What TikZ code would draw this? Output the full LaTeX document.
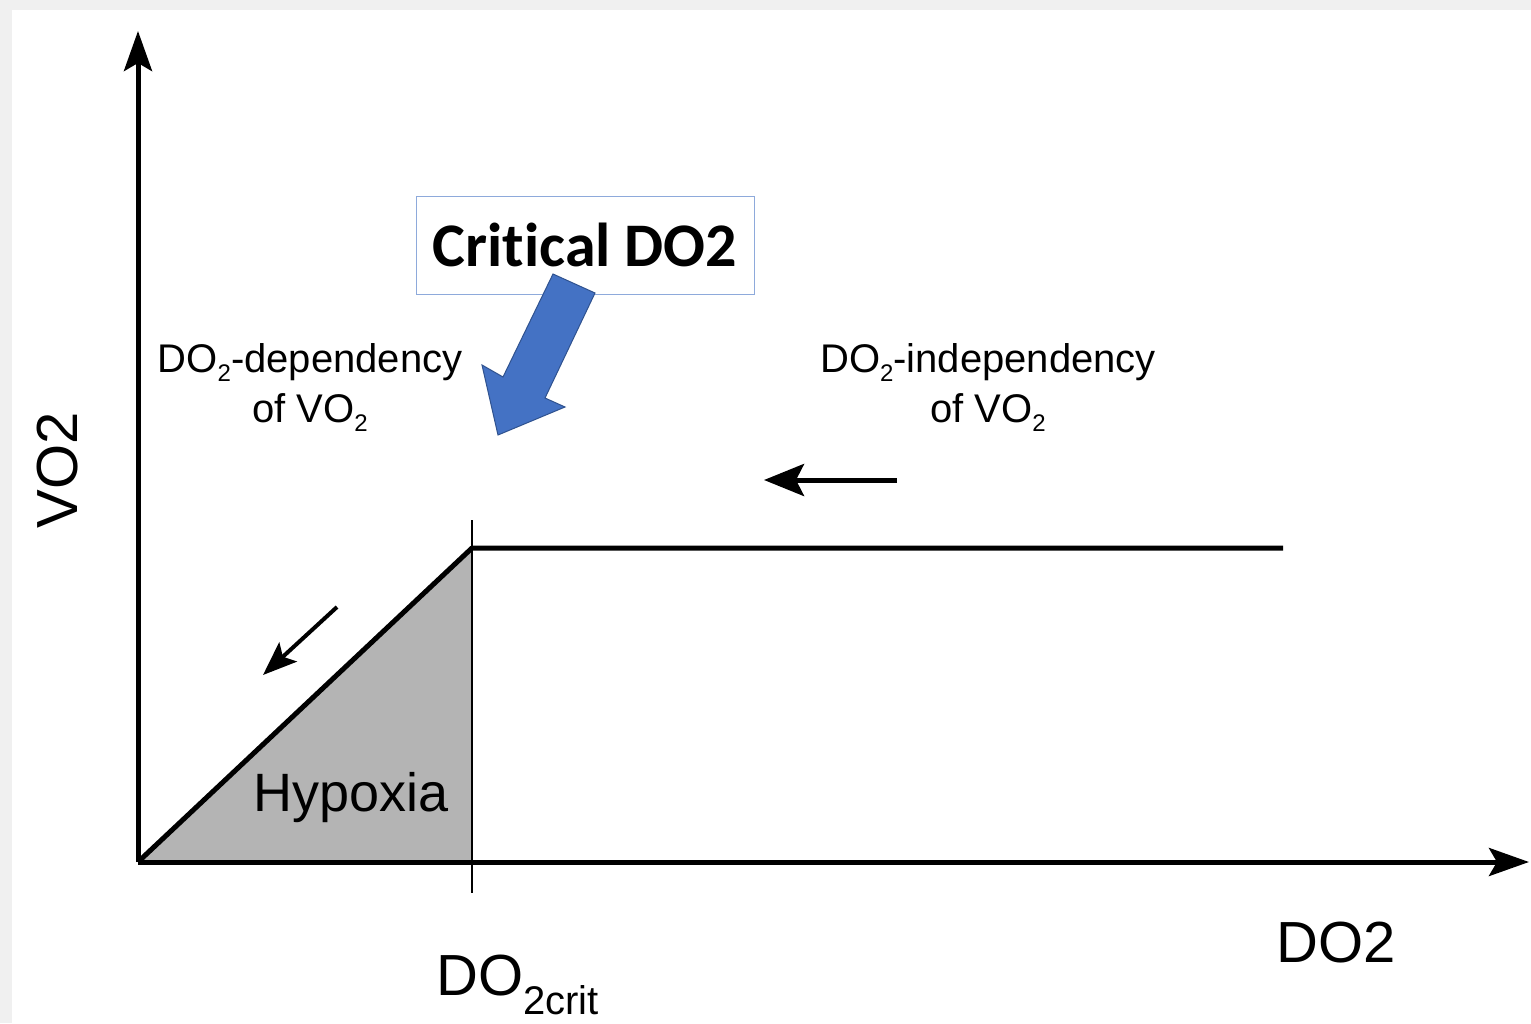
\documentclass[tikz,border=0pt]{standalone}
\usepackage{fontspec}
\setmainfont{Liberation Sans}
\newfontfamily\calfont[Ligatures=NoCommon]{Carlito}
\usetikzlibrary{arrows.meta}
\definecolor{bggray}{HTML}{F0F0F0}
\definecolor{hypgray}{HTML}{B4B4B4}
\definecolor{boxblue}{HTML}{8EAADB}
\definecolor{arrfill}{HTML}{4472C4}
\definecolor{arrline}{HTML}{2F528F}
\newcommand{\subtwo}{\raisebox{-9pt}{\fontsize{24}{24}\selectfont 2}}
\tikzset{
  axisline/.style={line width=5pt, -{Stealth[length=40pt,width=28pt,inset=8pt]}},
  curveline/.style={line width=5pt},
  smallarrow/.style={line width=5pt, -{Stealth[length=40pt,width=32pt,inset=8pt]}},
  lbl/.style={inner sep=0pt, align=center, font=\fontsize{40}{50}\selectfont},
  biglbl/.style={inner sep=0pt, font=\fontsize{58}{58}\selectfont},
}
\begin{document}
\begin{tikzpicture}[x=1pt,y=-1pt]
\useasboundingbox (0,0) rectangle (1531,1023);
\fill[bggray] (0,0) rectangle (1531,1023);
\fill[white] (12,10) rectangle (1531,1023);
% coordinates
\coordinate (O) at (138,862);
\coordinate (ytop) at (138,31);
\coordinate (xend) at (1529,862);
\coordinate (crit) at (472,548);
\coordinate (critbase) at (472,862);
\coordinate (plateauend) at (1283,548);
\coordinate (ticktop) at (472,520);
\coordinate (tickbot) at (472,893);
% hypoxia area
\fill[hypgray] (O) -- (crit) -- (critbase) -- cycle;
% axes
\draw[axisline] (O) -- (ytop);
\draw[axisline] (O) -- (xend);
% curve
\draw[line width=2pt] (ticktop) -- (tickbot);
\draw[curveline, line join=round] (O) -- (crit) -- (plateauend);
% direction arrows
\coordinate (a1s) at (897,480);
\coordinate (a1e) at (764,480);
\draw[smallarrow] (a1s) -- (a1e);
\coordinate (a2s) at (337,607);
\coordinate (a2e) at (263,675);
\draw[line width=4pt, -{Stealth[length=34pt,width=26pt,inset=7pt]}] (a2s) -- (a2e);
% labels
\node[biglbl, rotate=90] (vo2) at (58,470) {VO2};
\node[biglbl] (do2) at (1336,943) {DO2};
\node[inner sep=0pt, anchor=base west, font=\fontsize{58}{58}\selectfont] (do2crit) at (436,995) {DO\raisebox{-19pt}{\fontsize{40}{40}\selectfont 2crit}};
\node[inner sep=0pt, font=\fontsize{54}{54}\selectfont] (hyp) at (351,798) {Hypoxia};
\node[lbl] (dep) at (310,388) {DO\subtwo-dependency\\of VO\subtwo};
\node[lbl] (indep) at (988,388) {DO\subtwo-independency\\of VO\subtwo};
% critical box
\node[draw=boxblue, line width=1pt, fill=white, minimum width=338pt, minimum height=98pt, inner sep=0pt,
  font=\calfont\bfseries\fontsize{62}{62}\selectfont] (critbox) at (585,245) {Critical DO2};
% block arrow
\draw[fill=arrfill, draw=arrline, line width=1pt, line join=miter]
  (553,274) -- (595,293) -- (545,398) -- (565,407) -- (498,435) -- (482,365) -- (503,377) -- cycle;
\end{tikzpicture}
\end{document}
